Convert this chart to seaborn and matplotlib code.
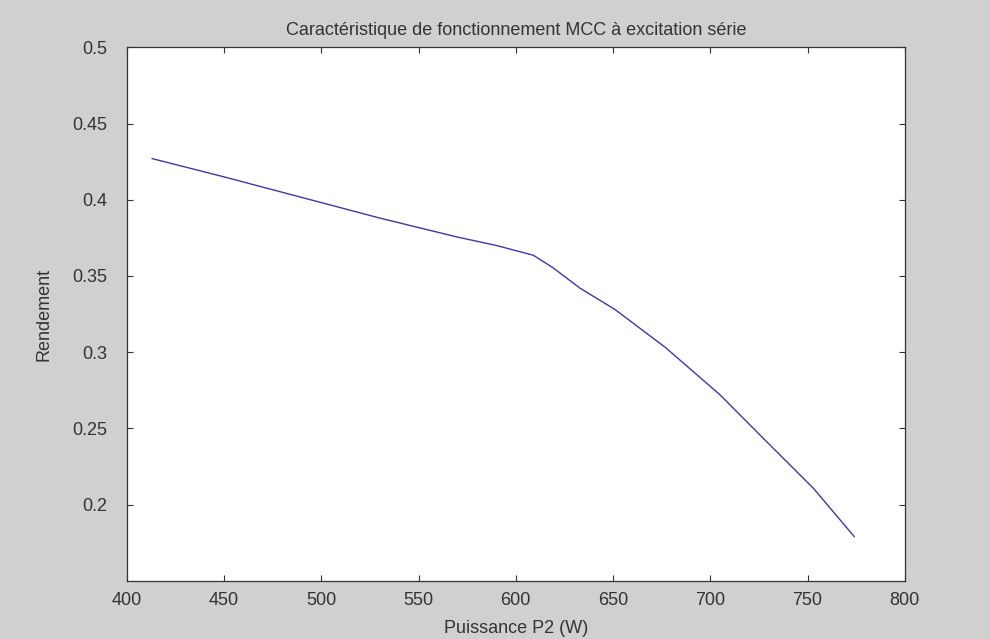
import matplotlib
matplotlib.use("Agg")
import matplotlib.pyplot as plt
import seaborn as sns
import pandas as pd

# Values
puissance = [413, 450, 490, 530, 570, 590, 609, 619, 633, 651, 677, 705, 728, 753, 774]
rendement = [0.427, 0.415, 0.4015, 0.388, 0.3755, 0.370, 0.3636, 0.3555, 0.342,
             0.328, 0.303, 0.272, 0.2425, 0.2107, 0.179]
xticks = [400, 450, 500, 550, 600, 650, 700, 750, 800]
yticks = [0.2, 0.25, 0.3, 0.35, 0.4, 0.45, 0.5]

df = pd.DataFrame({"P2": puissance, "eta": rendement})

sns.set_style("ticks")
plt.rcParams['font.family'] = ['Liberation Sans', 'DejaVu Sans']
plt.rcParams['xtick.direction'] = 'in'
plt.rcParams['ytick.direction'] = 'in'

fig = plt.figure(figsize=(9.9, 6.39), dpi=100, facecolor='#d0d0d0')
ax = fig.add_axes([0.128, 0.091, 0.786, 0.835])
ax.set_facecolor('white')

sns.lineplot(data=df, x="P2", y="eta", ax=ax, color='#3a3aa8', linewidth=1.0, sort=False)

ax.set_xlim(400, 800)
ax.set_ylim(0.15, 0.5)
ax.set_xticks(xticks)
ax.set_yticks(yticks)
ax.set_xticklabels([str(t) for t in xticks])
ax.set_yticklabels([f"{t:g}" for t in yticks])
ax.tick_params(axis='both', which='both', top=True, right=True, length=4,
               width=0.8, labelsize=13, colors='#333333', labelcolor='#333333')
ax.tick_params(axis='x', pad=8)
ax.tick_params(axis='y', pad=14)
for s in ax.spines.values():
    s.set_color('#333333')
    s.set_linewidth(0.9)

ax.set_xlabel("Puissance P2 (W)", fontsize=13, color='#333333', labelpad=8)
ax.set_ylabel("Rendement", fontsize=13, color='#333333', labelpad=14)
ax.set_title("Caractéristique de fonctionnement MCC à excitation série",
             fontsize=13, color='#333333', pad=9)

fig.savefig("out.png", dpi=100, facecolor=fig.get_facecolor())
